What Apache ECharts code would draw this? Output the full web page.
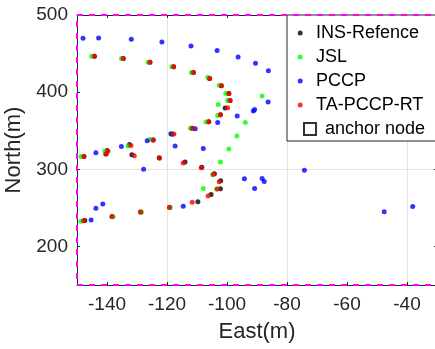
<!DOCTYPE html>
<html>
<head>
<meta charset="utf-8">
<script src="https://cdn.jsdelivr.net/npm/echarts@6/dist/echarts.min.js"></script>
<style>html,body{margin:0;padding:0;background:#fff;}#c{width:435px;height:349px;}</style>
</head>
<body>
<div id="c"></div>
<script>
// ---- data (East, North) in metres ----
const insRef = [[-144.2,446.6],[-134.6,443.5],[-125.7,438.9],[-117.8,432.8],[-111.2,425.4],[-105.8,417.7],[-101.9,408.2],[-99.4,398.3],[-99.0,389.2],[-100.6,379.6],[-102.2,370.7],[-106.1,361.7],[-111.6,353.3],[-118.7,346.2],[-124.6,338.1],[-132.5,332.2],[-140.0,324.5],[-147.7,316.5],[-140.3,319.7],[-131.7,319.0],[-122.6,314.9],[-114.0,309.6],[-108.4,302.6],[-104.2,294.1],[-102.1,285.1],[-102.2,274.7],[-105.3,267.4],[-109.7,257.9],[-119.1,250.8],[-128.8,244.7],[-138.3,238.9],[-147.4,233.7]];
const jsl = [[-145.1,446.6],[-135.2,443.5],[-126.3,438.9],[-118.4,432.8],[-111.9,425.4],[-106.4,419.2],[-102.6,408.9],[-100.4,398.3],[-99.8,389.2],[-102.9,383.9],[-103.1,369.8],[-107.0,361.3],[-112.2,353.3],[-118.3,345.6],[-125.7,338.8],[-133.0,330.3],[-140.7,323.3],[-148.7,316.5],[-88.3,394.9],[-93.9,360.8],[-96.7,343.2],[-99.4,326.4],[-102.2,309.6],[-104.8,292.9],[-107.9,275.1],[-103.5,274.5],[-119.0,250.2],[-128.5,244.3],[-138.0,238.5],[-148.7,232.8]];
const pccp = [[-148.0,469.9],[-142.8,470.3],[-131.9,468.6],[-121.7,465.1],[-112.0,459.9],[-103.3,453.9],[-96.3,445.7],[-90.5,437.3],[-86.2,427.6],[-86.3,387.2],[-91.2,375.5],[-90.8,377.6],[-96.6,369.1],[-103.1,360.8],[-110.6,352.7],[-118.3,345.3],[-126.6,337.1],[-135.2,329.4],[-143.7,321.4],[-117.3,330.3],[-107.9,326.8],[-127.8,300.1],[-94.2,287.6],[-88.3,288.0],[-87.6,284.2],[-90.8,275.1],[-74.2,298.8],[-47.6,245.0],[-38.1,251.8],[-114.6,252.2],[-141.4,255.1],[-143.7,249.6],[-145.3,234.4]];
const taPccpRt = [[-144.2,446.6],[-134.6,443.5],[-125.7,438.9],[-117.8,432.8],[-111.2,425.4],[-105.8,417.7],[-101.9,408.2],[-99.4,398.3],[-99.0,389.2],[-99.8,379.8],[-102.2,370.7],[-106.1,361.7],[-111.6,353.3],[-117.7,345.8],[-124.6,338.1],[-132.0,330.7],[-139.7,323.3],[-147.7,316.5],[-140.4,319.7],[-130.9,317.4],[-122.5,314.3],[-114.6,308.3],[-108.6,302.0],[-104.5,293.5],[-102.6,283.9],[-103.2,274.5],[-106.3,265.4],[-111.6,257.3],[-119.2,250.6],[-128.8,244.7],[-138.3,238.9],[-147.8,233.4]];
const boundary = [[-150,150],[-30,150],[-30,500],[-150,500],[-150,150]];
const xTicks = [-140,-120,-100,-80,-60,-40];
const yTicks = [200,300,400,500];
const legendNames = ['INS-Refence','JSL','PCCP','TA-PCCP-RT'];
const anchorName = 'anchor node';

const FONT = 'Liberation Sans, Arial, Helvetica, sans-serif';
const AX = '#262626';
const GRID = '#e3e3e3';

const chart = echarts.init(document.getElementById('c'), null, {renderer:'canvas'});
const baseX = {
  type:'value', min:-150, max:-30, interval:10,
  axisLine:{show:true, onZero:false, lineStyle:{color:AX, width:1}},
  axisTick:{show:true, inside:true, length:3, customValues:xTicks, lineStyle:{color:AX}},
};
const baseY = {
  type:'value', min:150, max:500, interval:50,
  axisLine:{show:true, onZero:false, lineStyle:{color:AX, width:1}},
  axisTick:{show:true, inside:true, length:3, customValues:yTicks, lineStyle:{color:AX}},
};
const scatterBase = {type:'scatter', symbol:'circle', symbolSize:5, xAxisIndex:0, yAxisIndex:0};
chart.setOption({
  animation:false,
  backgroundColor:'#fff',
  textStyle:{fontFamily:FONT},
  grid:{left:77, right:-2, top:15, bottom:64, outerBoundsMode:'none'},
  xAxis:[
    Object.assign({}, baseX, {
      position:'bottom', name:'East(m)', nameLocation:'middle', nameGap:36,
      nameTextStyle:{fontSize:22, color:AX, fontFamily:FONT},
      axisLabel:{customValues:xTicks, fontSize:19, color:AX, margin:10, fontFamily:FONT},
      splitLine:{show:true, lineStyle:{color:['rgba(0,0,0,0)', GRID], width:1}}
    }),
    Object.assign({}, baseX, {position:'top', axisLabel:{show:false}, splitLine:{show:false}})
  ],
  yAxis:[
    Object.assign({}, baseY, {
      position:'left', name:'North(m)', nameLocation:'middle', nameGap:42,
      nameTextStyle:{fontSize:22, color:AX, fontFamily:FONT},
      axisLabel:{customValues:yTicks, fontSize:19, color:AX, margin:9, fontFamily:FONT},
      splitLine:{show:true, lineStyle:{color:['rgba(0,0,0,0)', GRID], width:1}}
    }),
    Object.assign({}, baseY, {position:'right', axisLabel:{show:false}, splitLine:{show:false}})
  ],
  graphic:[{
    type:'rect', z:3, shape:{x:287, y:15, width:160, height:126},
    style:{fill:'#fff', stroke:AX, lineWidth:1}
  }],
  legend:[{
    data:legendNames, orient:'vertical', left:292.7, top:19, itemGap:6,
    icon:'circle', itemWidth:21.6, itemHeight:5, selectedMode:false, z:6,
    textStyle:{fontSize:18, color:'#000', fontFamily:FONT}
  },{
    data:[anchorName], orient:'vertical', left:298, top:115,
    icon:'rect', itemWidth:12, itemHeight:12, selectedMode:false, z:6,
    textStyle:{fontSize:18, color:'#000', fontFamily:FONT, padding:[0,0,0,4]}
  }],
  series:[
    Object.assign({}, scatterBase, {name:legendNames[0], data:insRef, itemStyle:{color:'#000000'}, z:2}),
    Object.assign({}, scatterBase, {name:legendNames[1], data:jsl, itemStyle:{color:'#00ff00'}, z:2}),
    Object.assign({}, scatterBase, {name:legendNames[2], data:pccp, itemStyle:{color:'#0000ff'}, z:2}),
    Object.assign({}, scatterBase, {name:legendNames[3], data:taPccpRt, itemStyle:{color:'#ff0000'}, z:2}),
    {type:'scatter', name:anchorName, data:[], symbol:'rect', symbolSize:12,
     itemStyle:{color:'#ffffff', borderColor:'#000', borderWidth:1}},
    {type:'line', name:'boundary', data:boundary, symbol:'none', clip:false, z:10, silent:true,
     lineStyle:{color:'#ff00ff', width:2, type:[6,6]}}
  ]
});
</script>
</body>
</html>
